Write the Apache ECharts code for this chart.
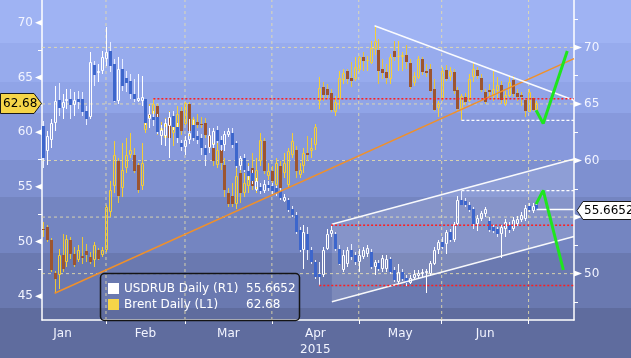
<!DOCTYPE html>
<html><head><meta charset="utf-8">
<script src="https://cdn.jsdelivr.net/npm/echarts@6/dist/echarts.min.js"></script>
<style>
html,body{margin:0;padding:0;overflow:hidden;}
#c{width:631px;height:358px;background:linear-gradient(to bottom,#9fb3f3 0px,#9fb3f3 43px,#97abed 43px,#97abed 82px,#90a4e7 82px,#90a4e7 113px,#8799dc 113px,#8799dc 160px,#7e90d0 160px,#7e90d0 197px,#7485c1 197px,#7485c1 253px,#6a79b0 253px,#6a79b0 308px,#5f6c9e 308px,#5f6c9e 358px);}
</style></head><body><div id="c"></div>
<script>
// ---------------- DATA ----------------
// weekday index (0 = Thu 1 Jan 2015) of the first candle
const startIndex = 6;
const yearLabel = '2015';
const monthNames = ['Jan','Feb','Mar','Apr','May','Jun'];
const brentTicks = [45,50,55,60,65,70];
const rubTicks = [50,55,60,65,70];
// USDRUB daily candles [open, close, low, high]
const usdrub = [
[63.01,60.22,59.34,63.45],[60.83,62.14,59.61,62.58],[61.79,63.28,61.09,63.71],[63.28,65.28,62.58,66.59],
[65.37,64.67,63.97,66.86],[64.67,65.20,63.71,65.90],[65.28,65.46,64.59,66.33],[65.46,64.93,63.71,66.33],
[64.93,65.37,63.97,66.07],[65.46,65.20,64.59,66.16],[65.46,64.32,63.97,66.07],[64.41,63.71,63.10,64.85],
[63.89,68.69,63.71,69.56],[68.43,67.55,66.59,68.78],[67.73,67.90,66.94,68.52],[67.90,69.13,67.64,69.65],
[68.95,69.56,68.34,71.83],[69.65,68.34,67.82,70.52],[68.52,65.28,65.20,68.95],[65.28,68.08,65.02,69.13],
[68.08,66.59,66.16,68.95],[67.29,66.86,66.07,67.90],[67.03,65.90,65.46,67.64],[65.90,65.46,65.20,67.21],
[65.28,65.55,65.20,67.64],[65.28,65.63,64.85,67.47],[65.46,63.28,63.10,65.46],[63.71,64.15,62.84,64.85],
[63.89,63.54,63.01,64.41],[63.89,62.49,62.31,64.15],[62.14,62.66,61.35,63.10],[62.14,63.28,61.27,63.71],
[63.01,63.89,60.22,64.32],[63.97,62.93,62.66,64.41],[62.93,61.97,61.53,63.28],[61.53,61.18,60.83,61.79],
[61.18,61.79,60.48,62.14],[61.79,62.40,61.44,63.71],[63.10,61.97,61.70,63.54],[62.14,61.79,61.44,62.58],
[61.97,61.09,60.48,62.31],[61.09,60.48,59.52,61.35],[61.09,62.23,60.66,62.84],[61.35,62.58,61.09,62.84],
[62.66,61.70,61.53,63.01],[61.79,61.35,60.83,62.14],[61.35,62.31,60.83,62.58],[62.23,62.58,62.05,62.84],
[62.40,61.35,61.09,62.84],[61.53,59.52,59.34,61.70],[59.52,60.22,59.17,60.39],[60.22,59.17,59.00,60.57],
[59.08,58.65,58.30,59.52],[58.91,58.21,57.95,59.17],[57.42,58.21,57.34,58.47],[57.69,57.34,57.07,58.03],
[57.34,57.95,57.16,58.30],[57.86,57.60,57.34,58.21],[57.77,57.34,57.07,58.03],[57.60,57.16,56.90,57.77],
[57.34,56.72,56.55,57.60],[56.46,56.81,56.29,57.07],[56.55,55.59,55.41,56.72],[55.68,55.15,54.98,55.94],
[55.15,53.67,53.49,55.41],[53.84,52.10,51.92,54.10],[52.10,53.67,50.44,54.28],[53.49,52.10,51.22,54.10],
[52.10,51.05,50.87,52.36],[51.05,49.74,49.56,51.22],[50.00,49.74,48.95,51.05],[49.91,52.10,49.74,52.36],
[52.18,53.49,52.10,53.93],[53.49,53.84,53.23,54.28],[53.49,52.18,52.01,53.67],[52.18,50.87,50.79,52.53],
[50.35,51.66,50.17,52.10],[50.87,52.10,50.61,52.36],[52.10,51.48,51.22,52.62],[51.66,51.05,50.79,51.92],
[51.05,51.66,50.17,52.18],[51.48,52.10,51.31,52.36],[51.75,52.27,51.48,52.53],[51.92,50.61,50.44,52.18],
[50.61,51.05,49.91,51.22],[50.96,50.44,50.26,51.22],[50.44,51.40,50.17,51.66],[50.44,51.31,50.17,51.66],
[51.31,50.17,50.00,51.48],[50.35,49.48,49.30,50.61],[49.30,50.17,49.04,50.87],[50.17,49.56,49.39,50.44],
[49.65,49.13,48.95,49.91],[49.21,49.65,49.04,49.91],[49.65,50.00,49.56,50.35],[49.83,50.09,49.56,50.35],
[50.00,50.17,49.74,50.44],[50.09,50.26,48.25,50.44],[50.00,50.96,49.83,51.14],[50.87,52.10,50.79,52.36],
[52.10,52.79,51.75,52.97],[52.79,52.36,52.18,53.23],[52.62,53.67,51.75,53.84],[53.67,52.97,52.79,53.93],
[52.97,54.37,52.79,54.54],[54.37,56.55,54.28,56.90],[56.55,56.11,56.11,57.34],[56.46,56.03,55.85,56.72],
[56.11,55.59,55.41,56.29],[55.68,54.37,53.93,55.85],[54.37,54.89,53.76,55.15],[54.80,55.33,54.63,55.50],
[55.24,55.68,54.98,55.85],[54.63,53.84,53.67,54.98],[54.10,53.76,53.58,54.28],[53.93,53.49,53.23,54.10],
[53.49,54.10,51.40,54.28],[53.93,54.54,53.23,54.80],[54.28,53.84,53.58,54.54],[53.93,54.72,53.76,54.98],
[54.37,54.80,54.19,55.07],[54.72,55.15,54.54,55.41],[54.80,55.76,54.63,56.03],[55.94,55.59,55.41,56.20],
[55.50,55.94,55.33,56.20],[56.03,55.6652,55.59,56.20]
];
// Brent daily candles [open, close, low, high]
const brent = [
[51.14,51.05,50.42,51.77],[51.32,50.14,49.96,51.50],[50.14,47.44,47.26,50.33],[47.17,46.62,45.27,47.35],
[46.90,48.79,45.63,49.33],[48.79,47.53,47.26,50.69],[48.16,50.23,47.71,50.60],[50.14,48.88,48.43,50.42],
[48.88,47.89,47.71,49.51],[48.34,49.24,48.16,49.69],[48.70,48.52,47.98,50.42],[49.15,48.79,48.16,49.78],
[48.61,48.16,47.98,49.06],[48.34,49.69,47.71,49.96],[49.24,48.43,48.34,49.42],[48.79,49.24,48.61,49.51],
[49.24,53.12,49.06,53.30],[52.67,54.75,52.22,55.56],[55.11,57.91,54.48,59.17],[57.36,54.21,53.57,57.64],
[54.93,56.55,54.03,58.99],[56.73,57.91,56.28,59.44],[57.91,58.36,57.64,59.89],[57.91,56.46,56.28,58.54],
[57.00,54.75,54.48,57.18],[55.11,57.18,54.75,58.99],[60.16,61.52,59.89,62.15],[61.70,61.52,60.34,62.60],
[61.70,62.60,61.52,63.05],[62.42,60.52,59.71,62.60],[59.62,60.34,58.81,60.97],[59.44,60.52,58.99,61.25],
[61.25,59.44,58.99,61.97],[59.89,60.97,58.72,61.43],[59.62,61.70,59.44,62.42],[61.97,60.07,59.71,62.33],
[60.79,62.69,60.61,62.78],[62.60,60.07,59.62,62.78],[60.07,61.16,59.80,61.43],[60.97,60.61,60.34,61.70],
[60.79,60.61,60.34,61.43],[60.88,59.71,59.44,61.25],[59.71,58.54,58.09,60.16],[58.54,57.36,56.91,58.99],
[57.00,58.36,56.73,59.44],[58.36,57.18,56.55,58.99],[57.00,54.75,54.03,57.64],[54.48,53.39,53.12,54.93],
[54.21,53.39,53.12,55.38],[53.39,56.01,52.94,56.73],[56.28,54.48,53.57,56.73],[54.48,55.38,54.03,56.28],
[55.11,56.01,54.48,57.18],[56.73,55.11,54.75,58.09],[54.93,56.55,54.48,57.64],[57.36,59.26,56.91,59.89],
[59.17,56.46,56.19,59.44],[56.01,56.46,55.65,57.18],[56.46,55.56,55.20,56.91],[55.20,57.18,54.93,57.64],
[56.91,54.93,54.48,57.36],[56.28,57.18,55.83,58.09],[55.20,58.27,54.93,58.54],[57.91,59.17,57.64,59.89],
[58.36,56.46,55.83,58.72],[56.10,56.55,55.83,57.18],[56.91,58.09,56.28,58.54],[58.09,57.91,57.36,59.62],
[58.27,58.54,57.64,59.44],[58.81,60.43,58.36,60.79],[62.87,64.04,62.15,65.04],[64.13,63.41,62.87,64.58],
[63.95,63.41,63.05,64.40],[63.59,62.06,61.88,63.95],[61.88,62.78,61.52,63.32],[63.05,64.95,62.15,65.58],
[64.77,65.40,64.40,65.76],[65.58,64.86,64.40,65.76],[64.95,64.68,64.13,66.39],[64.86,65.94,64.68,66.84],
[65.67,66.84,65.49,66.93],[66.84,66.48,65.58,67.29],[66.48,66.57,65.58,66.93],[66.30,67.65,66.21,68.29],
[67.56,68.29,67.02,69.73],[67.47,65.58,64.40,68.47],[65.76,65.40,64.86,66.66],[65.49,64.95,64.40,66.21],
[64.86,66.84,64.40,67.11],[67.38,66.84,66.48,68.29],[66.84,66.93,65.58,68.29],[66.84,67.02,65.58,67.29],
[67.02,66.39,65.76,68.01],[66.30,64.13,63.95,66.66],[64.49,65.13,64.22,65.49],[64.95,66.66,64.86,66.93],
[66.66,65.49,65.22,66.84],[65.58,65.40,65.04,66.21],[65.76,63.77,63.68,66.21],[63.95,62.06,61.97,64.86],
[62.24,62.69,61.43,62.87],[63.05,65.58,62.87,65.94],[65.67,64.86,64.68,66.12],[65.04,65.58,64.68,65.94],
[65.49,63.77,63.50,65.76],[63.86,62.15,61.97,64.13],[62.15,63.32,61.07,63.50],[63.23,62.78,62.51,63.59],
[62.87,64.86,62.78,65.31],[65.04,65.76,64.58,66.39],[65.67,65.13,64.86,65.94],[64.95,63.86,63.68,65.31],
[63.68,62.78,62.60,63.95],[63.86,63.68,63.23,64.40],[63.32,63.95,62.87,65.58],[63.77,64.31,63.05,65.04],
[64.31,62.96,62.60,64.68],[62.60,63.41,62.42,63.77],[63.32,64.58,63.23,65.04],[64.77,63.50,63.23,65.13],
[63.59,63.23,62.87,63.95],[63.41,63.23,62.42,63.68],[62.96,61.97,61.43,63.05],[61.88,63.68,61.88,63.95],
[63.14,62.06,61.97,63.23],[62.06,62.68,61.97,62.87]
];
// Annotations in data coordinates: [weekday index, price]
const brentSupport = [[9,45.27],[140.5,66.72]];
const brentResistance = [[90,69.73],[140.5,62.92]];
const rubChannelUpper = [[79.2,54.37],[140.5,60.13]];
const rubChannelLower = [[79.2,47.51],[140.5,53.28]];
const brentRedLevel = {from:34, value:63.05};
const rubRedLevels = [{from:79, value:54.28},{from:76, value:48.95}];
const brentWhiteLevel = {from:112, value:61.07};
const rubWhiteLevel = {from:112, value:57.34};
const brentForecast = [[130.9,62.0],[132.7,60.79],[138.8,67.41]];
const rubForecast = [[130.9,56.14],[132.7,57.36],[137.8,50.32]];

// ---------------- CHART ----------------
const FONT = '"DejaVu Sans", sans-serif';
const X_MIN = 5.8, X_MAX = 140.5;
const GL = 42, GR = 57, GT = 0, GB = 34, W = 631, H = 358;

function weekdays(n){const out=[];const d=new Date(Date.UTC(2015,0,1));while(out.length<n){const w=d.getUTCDay();if(w!==0&&w!==6)out.push(new Date(d));d.setUTCDate(d.getUTCDate()+1);}return out;}
const days = weekdays(160);
const monthFirst=[0];
for(let i=1;i<days.length;i++){if(days[i].getUTCMonth()!==days[i-1].getUTCMonth())monthFirst.push(i);}
const monthTicks = monthFirst.slice(1,monthNames.length+1);
const monthMids = monthNames.map((m,k)=>(monthFirst[k]+monthFirst[k+1])/2);
const brentMinor = brentTicks.map(t=>t+2.5).filter(t=>t<72);
const rubMinor = [47.5].concat(rubTicks.map(t=>t+2.5));

const brentData = brent.map((d,k)=>[startIndex+k].concat(d));
const rubData = usdrub.map((d,k)=>[startIndex+k].concat(d));

function makeRender(upColor, downColor, wickUp, wickDown){
  return function(params, api){
    const i=api.value(0),o=api.value(1),c=api.value(2),l=api.value(3),h=api.value(4);
    const po=api.coord([i,o]);
    const X=Math.round(po[0]);
    const yo=po[1], yc=api.coord([i,c])[1], yl=api.coord([i,l])[1], yh=api.coord([i,h])[1];
    const up=c>=o;
    let top=Math.round(Math.min(yo,yc)), bot=Math.round(Math.max(yo,yc));
    if(bot-top<1) bot=top+1;
    const wick=up?wickUp:wickDown;
    const ch=[
      {type:'line',shape:{x1:X+0.5,y1:Math.round(yh),x2:X+0.5,y2:top},style:{stroke:wick,lineWidth:1}},
      {type:'line',shape:{x1:X+0.5,y1:bot,x2:X+0.5,y2:Math.round(yl)},style:{stroke:wick,lineWidth:1}}
    ];
    if(up) ch.push({type:'rect',shape:{x:X-0.5,y:top+0.5,width:2,height:Math.max(bot-top-1,0)},style:{fill:'none',stroke:upColor,lineWidth:1}});
    else ch.push({type:'rect',shape:{x:X-1,y:top,width:3,height:bot-top},style:{fill:downColor}});
    return {type:'group',children:ch};
  };
}
function seg(data,yIdx,color,width,type,z){
  return {type:'line',data:data,xAxisIndex:0,yAxisIndex:yIdx,symbol:'none',silent:true,animation:false,
    lineStyle:{color:color,width:width,type:type||'solid'},z:z||5};
}
const gridColor='rgba(232,222,170,0.85)';
const series=[];
rubTicks.forEach(v=>series.push(seg([[X_MIN,v],[X_MAX,v]],1,gridColor,1,[3,3],1)));
monthTicks.forEach(t=>series.push({type:'line',data:[[t,45.9],[t,74.19]],xAxisIndex:0,yAxisIndex:1,symbol:'none',silent:true,lineStyle:{color:gridColor,width:1,type:[3,3]},z:1}));
series.push({type:'custom',xAxisIndex:0,yAxisIndex:1,silent:true,z:2,data:[[rubChannelUpper[0][0],rubChannelUpper[0][1]]],
  renderItem:function(p,api){const pts=[rubChannelUpper[0],rubChannelUpper[1],rubChannelLower[1],rubChannelLower[0]].map(q=>api.coord(q));
    return {type:'polygon',shape:{points:pts},style:{fill:'rgba(255,255,255,0.13)'}};}});
series.push({type:'custom',name:'Brent',xAxisIndex:0,yAxisIndex:0,silent:true,z:3,data:brentData,encode:{x:0,y:[1,2,3,4]},
  renderItem:makeRender('#f5cf35','#9c5530','#f5cf35','#e9c43a')});
series.push({type:'custom',name:'USDRUB',xAxisIndex:0,yAxisIndex:1,silent:true,z:4,data:rubData,encode:{x:0,y:[1,2,3,4]},
  renderItem:makeRender('#ffffff','#3d66cc','#ffffff','#e8eeff')});
series.push(seg(brentSupport,0,'#f0902a',1.5,'solid',5));
series.push(seg(brentResistance,0,'rgba(255,255,255,0.95)',1.5,'solid',5));
series.push(seg(rubChannelUpper,1,'rgba(255,255,255,0.95)',1.5,'solid',5));
series.push(seg(rubChannelLower,1,'rgba(255,255,255,0.95)',1.5,'solid',5));
series.push(seg([[brentRedLevel.from,brentRedLevel.value],[X_MAX,brentRedLevel.value]],0,'#ff1e1e',1.5,[2,2],6));
rubRedLevels.forEach(r=>series.push(seg([[r.from,r.value],[X_MAX,r.value]],1,'#ff1e1e',1.5,[2,2],6)));
series.push(seg([[brentWhiteLevel.from,brentWhiteLevel.value],[X_MAX,brentWhiteLevel.value]],0,'#ffffff',1.2,[3,2],6));
series.push(seg([[rubWhiteLevel.from,rubWhiteLevel.value],[X_MAX,rubWhiteLevel.value]],1,'#ffffff',1.2,[3,2],6));
const lastRub = usdrub[usdrub.length-1][1], lastBrent = brent[brent.length-1][1];
const lastIdx = startIndex+usdrub.length-1;
series.push(seg([[lastIdx,lastRub],[X_MAX,lastRub]],1,'#ffffff',1.5,'solid',6));
series.push(seg(brentForecast,0,'#1ee61e',3,'solid',7));
series.push(seg(rubForecast,1,'#1ee61e',3,'solid',7));

const labelColor='#f2f4ff';
const chart=echarts.init(document.getElementById('c'),null,{renderer:'canvas'});
chart.setOption({
  animation:false,
  backgroundColor:'transparent',
  grid:{left:GL,right:GR,top:GT,bottom:GB,containLabel:false},
  xAxis:{type:'value',min:X_MIN,max:X_MAX,
    axisLine:{show:true,onZero:false,lineStyle:{color:'#ffffff',width:1.5}},
    axisTick:{show:true,customValues:monthTicks,length:4,lineStyle:{color:'#ffffff'}},
    axisLabel:{customValues:monthMids,color:labelColor,fontFamily:FONT,fontSize:12,margin:6,lineHeight:16,
      formatter:function(v){const k=monthMids.indexOf(v);const n=monthNames[k]||'';return n==='Apr'?n+'\n'+yearLabel:n;}},
    splitLine:{show:false}},
  yAxis:[
    {type:'value',position:'left',min:42.83,max:72.08,
      axisLine:{show:true,lineStyle:{color:'#ffffff',width:1.5}},
      axisTick:{show:true,customValues:brentMinor,length:4,lineStyle:{color:'#ffffff'}},
      axisLabel:{customValues:brentTicks,color:labelColor,fontFamily:FONT,fontSize:12,margin:9},
      splitLine:{show:false}},
    {type:'value',position:'right',min:45.9,max:74.19,
      axisLine:{show:true,lineStyle:{color:'#ffffff',width:1.5}},
      axisTick:{show:true,customValues:rubMinor,length:4,lineStyle:{color:'#ffffff'}},
      axisLabel:{customValues:rubTicks,color:labelColor,fontFamily:FONT,fontSize:12,margin:10},
      splitLine:{show:false}}
  ],
  series:series
});

// axis wedges, value tags and legend
const gx0=GL, gx1=W-GR;
const g=[];
brentTicks.forEach(v=>{const y=chart.convertToPixel({yAxisIndex:0},v);
  g.push({type:'polygon',shape:{points:[[gx0-7,y],[gx0,y-3],[gx0,y+3]]},style:{fill:'#ffffff'},z:20});});
rubTicks.forEach(v=>{const y=chart.convertToPixel({yAxisIndex:1},v);
  g.push({type:'polygon',shape:{points:[[gx1+8,y],[gx1,y-3],[gx1,y+3]]},style:{fill:'#ffffff'},z:20});});
const yb=Math.round(chart.convertToPixel({yAxisIndex:0},lastBrent))+0.5;
g.push({type:'polygon',shape:{points:[[0.5,yb-10],[34,yb-10],[41.5,yb],[34,yb+10],[0.5,yb+10]]},style:{fill:'#f6d548',stroke:'#1a1a1a',lineWidth:1},z:30});
g.push({type:'text',x:3,y:yb+0.5,style:{text:lastBrent.toFixed(2),fill:'#000',font:'12px '+FONT,verticalAlign:'middle',align:'left'},z:31});
const yr=Math.round(chart.convertToPixel({yAxisIndex:1},lastRub))+0.5;
g.push({type:'polygon',shape:{points:[[gx1+3,yr],[gx1+9,yr-9],[W+2,yr-9],[W+2,yr+9],[gx1+9,yr+9]]},style:{fill:'#ffffff',stroke:'#1a1a1a',lineWidth:1},z:30});
g.push({type:'text',x:gx1+10,y:yr+0.5,style:{text:lastRub.toFixed(4),fill:'#000',font:'12px '+FONT,verticalAlign:'middle',align:'left'},z:31});
// legend box
g.push({type:'rect',shape:{x:100.5,y:273.5,width:199,height:47,r:4},style:{fill:'none',stroke:'#141414',lineWidth:1.5},z:40});
g.push({type:'rect',shape:{x:108,y:283,width:11,height:11},style:{fill:'#ffffff'},z:40});
g.push({type:'rect',shape:{x:108,y:299,width:11,height:11},style:{fill:'#f6d548'},z:40});
g.push({type:'text',x:124,y:289,style:{text:'USDRUB Daily (R1)',fill:'#ffffff',font:'12px '+FONT,verticalAlign:'middle'},z:40});
g.push({type:'text',x:124,y:305,style:{text:'Brent Daily (L1)',fill:'#ffffff',font:'12px '+FONT,verticalAlign:'middle'},z:40});
g.push({type:'text',x:246,y:289,style:{text:lastRub.toFixed(4),fill:'#ffffff',font:'12px '+FONT,verticalAlign:'middle'},z:40});
g.push({type:'text',x:246,y:305,style:{text:lastBrent.toFixed(2),fill:'#ffffff',font:'12px '+FONT,verticalAlign:'middle'},z:40});
chart.setOption({graphic:g});
</script></body></html>
